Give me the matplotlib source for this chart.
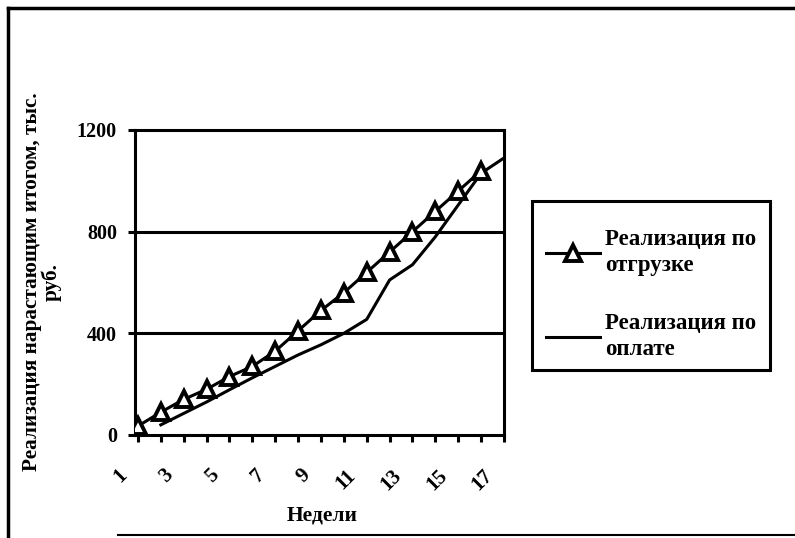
import numpy as np
import matplotlib
matplotlib.use("Agg")
import matplotlib.pyplot as plt
from matplotlib.lines import Line2D
from matplotlib.patches import Rectangle
from matplotlib.transforms import ScaledTranslation

weeks = list(range(1, 18))
tick_labels = ["1", "", "3", "", "5", "", "7", "", "9", "", "11", "", "13", "", "15", "", "17"]
shipment = [35, 90, 140, 180, 230, 270, 330, 410, 490, 560, 640, 720, 800, 880, 960, 1040, np.nan]
payment = [np.nan, 40, 85, 130, 178, 225, 270, 315, 355, 400, 455, 610, 670, 780, 905, 1030, 1090]
yticks = [0, 400, 800, 1200]
series_names = ['Реализация по\nотгрузке', 'Реализация по\nоплате']
ylabel_text = 'Реализация нарастающим итогом, тыс.\nруб.'
xlabel_text = 'Недели'

W, H = 795, 538
plt.rcParams['font.family'] = ['Liberation Serif', 'DejaVu Serif']
plt.rcParams['font.weight'] = 'bold'
fig = plt.figure(figsize=(W / 100, H / 100), dpi=100)

def fx(px):
    return px / W

def fy(py):
    return 1 - py / H

L, R, T, B = 135, 504, 130, 435
ax = fig.add_axes([fx(L), fy(B), fx(R) - fx(L), fy(T) - fy(B)])

LW = 2.2
ax.plot(weeks, shipment, color='black', lw=LW, marker='^', markersize=11,
        markerfacecolor='white', markeredgecolor='black', markeredgewidth=2.8,
        label=series_names[0], zorder=4)
ax.plot(weeks, payment, color='black', lw=LW, label=series_names[1], zorder=3)

ax.set_xlim(0.87, 17.0)
ax.set_ylim(0, 1200)
ax.set_xticks(weeks)
ax.set_xticklabels(tick_labels, rotation=45, ha='right', va='center',
                   fontsize=15, fontweight='bold', rotation_mode='anchor')
ax.set_yticks(yticks)
ax.set_yticklabels([str(v) for v in yticks], fontsize=14.5, fontweight='bold')
ax.tick_params(axis='both', direction='out', length=5, width=LW, color='black')
ax.tick_params(axis='y', pad=8)
ax.tick_params(axis='x', pad=22)
shift = ScaledTranslation(-14 / 100, 0, fig.dpi_scale_trans)
for lab in ax.get_xticklabels():
    lab.set_transform(lab.get_transform() + shift)
for y in [400, 800]:
    ax.axhline(y, color='black', lw=LW, zorder=1)
for s in ax.spines.values():
    s.set_linewidth(LW)
    s.set_color('black')

fig.text(fx(322), fy(515), xlabel_text, ha='center', va='center', fontsize=15.5, fontweight='bold')
fig.text(fx(42), fy(282), ylabel_text, ha='center', va='center', rotation=90,
         multialignment='center', fontsize=15.3, fontweight='bold', linespacing=0.95)

leg = fig.legend(loc='upper left', bbox_to_anchor=(fx(546), fy(229)), frameon=False,
                 prop={'weight': 'bold', 'size': 16.5, 'family': ['Liberation Serif']},
                 handlelength=2.36, handletextpad=0.22, labelspacing=1.6,
                 borderpad=0, borderaxespad=0)
for t in leg.get_texts():
    t.set_linespacing(1.33)
fig.add_artist(Rectangle((fx(532), fy(370)), fx(770) - fx(532), fy(201) - fy(370),
                         fill=False, edgecolor='black', lw=2.2, transform=fig.transFigure))

# outer frame
fig.add_artist(Line2D([fx(8), fx(795)], [fy(8), fy(8)], color='black', lw=2.5))
fig.add_artist(Line2D([fx(8), fx(8)], [fy(8), fy(538)], color='black', lw=2.5))
fig.add_artist(Line2D([fx(118), fx(795)], [fy(535), fy(535)], color='black', lw=1.5))

fig.savefig('out.png', dpi=100)
